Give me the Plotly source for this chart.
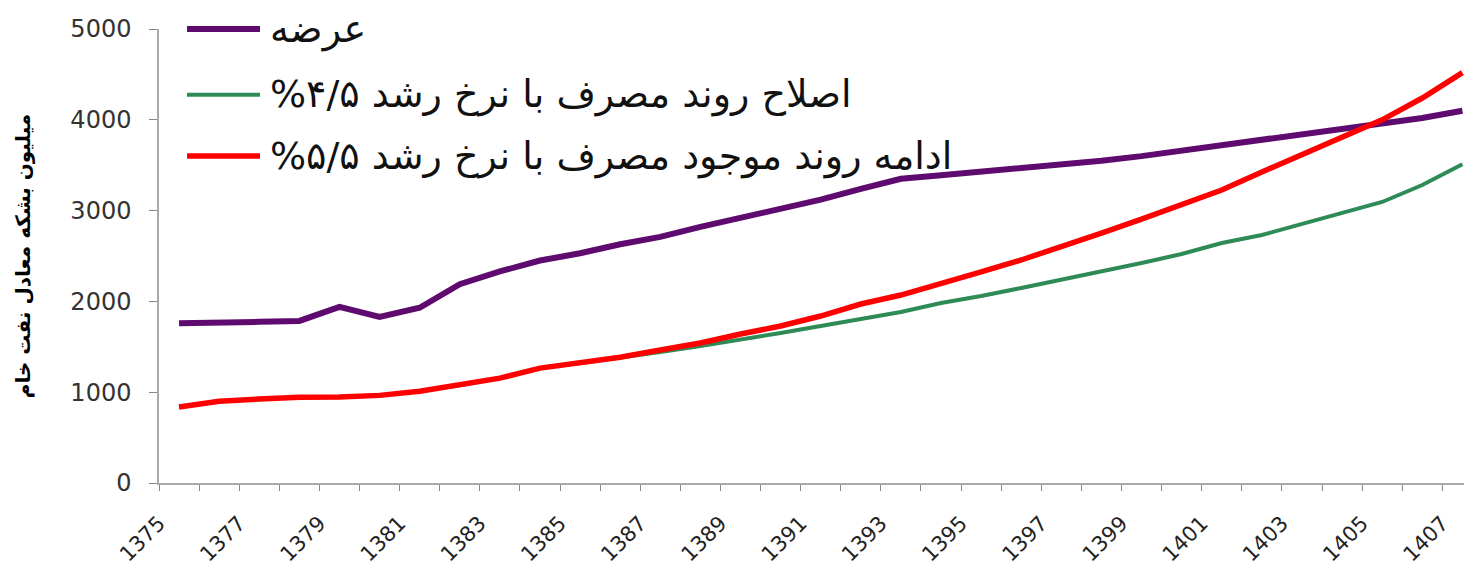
import plotly.graph_objects as go

years = list(range(1375, 1408))

supply = [1760, 1760, 1775, 1785, 1940, 1830, 1930, 2190, 2330, 2450, 2530, 2630,
          2710, 2820, 2920, 3020, 3120, 3240, 3350, 3390, 3430, 3460, 3500, 3550,
          3600, 3660, 3710, 3780, 3840, 3900, 3950, 4020, 4100]

reform = [837, 900, 925, 945, 947, 965, 1010, 1075, 1155, 1265, 1320, 1377,
          1443, 1509, 1575, 1652, 1729, 1806, 1883, 1982, 2059, 2148, 2236, 2324,
          2423, 2522, 2643, 2731, 2852, 2974, 3095, 3282, 3510]

current = [837, 900, 925, 945, 947, 965, 1010, 1075, 1155, 1265, 1320, 1385,
           1465, 1542, 1641, 1729, 1839, 1971, 2070, 2192, 2324, 2456, 2600, 2753,
           2907, 3062, 3227, 3425, 3612, 3800, 4000, 4240, 4520]

names = ["عرضه",
         "اصلاح روند مصرف با نرخ رشد ۴/۵%",
         "ادامه روند موجود مصرف با نرخ رشد ۵/۵%"]
colors = ["#5E0A6E", "#2E8B57", "#FF0000"]
widths = [6, 4, 5.5]
series = [supply, reform, current]

y_ticks = [0, 1000, 2000, 3000, 4000, 5000]
x_labels = years[::2]

fig = go.Figure()
for s, n, c, w in zip(series, names, colors, widths):
    fig.add_trace(go.Scatter(x=years, y=s, mode="lines", name=n,
                             line=dict(color=c, width=w), showlegend=False))

# manual legend (long line samples like the original)
leg_rows = [1.0, 0.855, 0.72]
for n, c, w, yy in zip(names, colors, widths, leg_rows):
    fig.add_shape(type="line", xref="paper", yref="paper",
                  x0=0.0215, x1=0.0774, y0=yy, y1=yy,
                  line=dict(color=c, width=w))
    fig.add_annotation(xref="paper", yref="paper", x=0.0835, y=yy,
                       xanchor="left", yanchor="middle", showarrow=False,
                       text="\u200f" + n + "\u200f",
                       font=dict(family="DejaVu Sans", size=38, color="#111111"))

fig.update_xaxes(range=[1374.5, 1407.04],
                 tickmode="array",
                 tickvals=[y - 0.5 for y in x_labels],
                 ticktext=[str(y) for y in x_labels],
                 tickangle=-45,
                 ticks="outside", ticklen=6, tickcolor="#888888",
                 ticklabelstandoff=12, automargin=False,
                 minor=dict(tickvals=[y - 0.5 for y in years], ticks="outside",
                            ticklen=6, tickcolor="#888888"),
                 showline=True, linecolor="#aaaaaa", linewidth=1.5,
                 showgrid=False, zeroline=False,
                 tickfont=dict(family="DejaVu Sans", size=21, color="#222222"))

fig.update_yaxes(range=[0, 5000], tickvals=y_ticks,
                 ticks="outside", ticklen=8, tickcolor="#888888",
                 ticklabelstandoff=13, automargin=False,
                 showline=True, linecolor="#aaaaaa", linewidth=1.5,
                 showgrid=False, zeroline=False,
                 tickfont=dict(family="DejaVu Sans", size=24, color="#333333"),
                 title=dict(text="میلیون بشکه معادل نفت خام",
                            font=dict(family="DejaVu Sans", size=20, color="#000000",
                                      weight="bold"),
                            standoff=34))

fig.update_layout(width=1464, height=573,
                  margin=dict(l=159, r=0, t=29, b=90),
                  plot_bgcolor="white", paper_bgcolor="white",
                  showlegend=False)

fig.write_html("out.html",
               config={"displayModeBar": False},
               post_script="document.body.style.margin='0px';"
                           "document.body.style.overflow='hidden';")
